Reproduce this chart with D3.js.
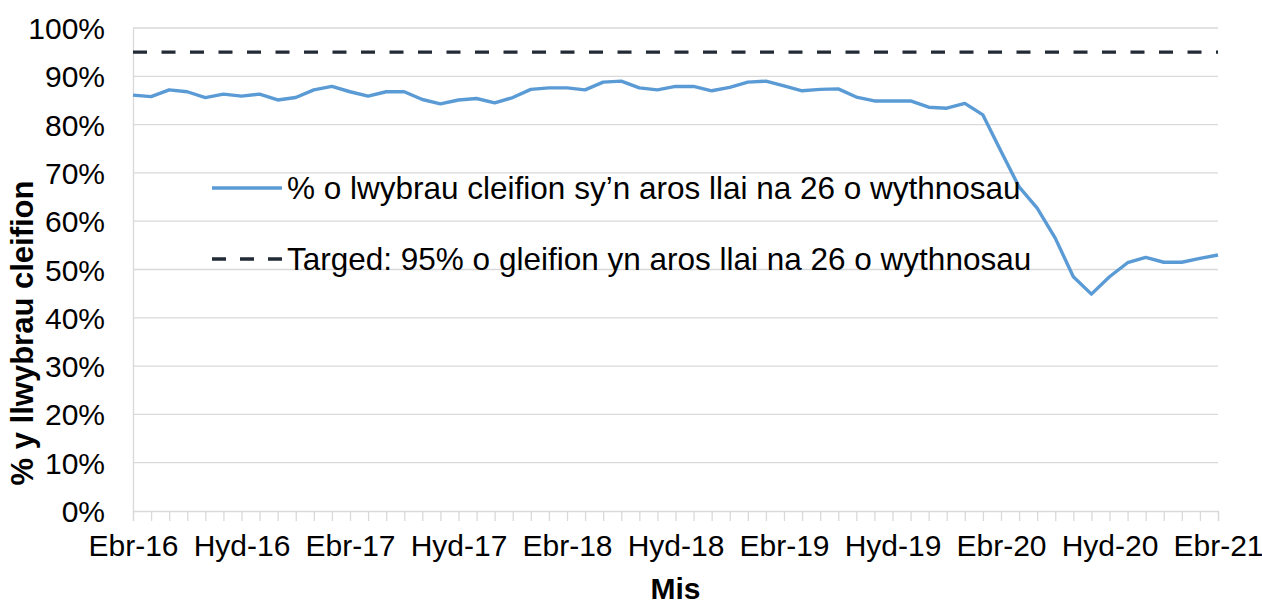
<!DOCTYPE html>
<html>
<head>
<meta charset="utf-8">
<script src="https://cdn.jsdelivr.net/npm/d3@7"></script>
<style>
  body { margin: 0; background: #fff; }
  svg { display: block; font-family: "Liberation Sans", Arial, sans-serif; }
</style>
</head>
<body>
<svg id="chart" width="1262" height="601"></svg>
<script>
// monthly categories, Apr 2016 - Apr 2021
const months = [
  "Ebr-16","Mai-16","Meh-16","Gor-16","Aws-16","Med-16","Hyd-16","Tach-16","Rhag-16","Ion-17","Chwe-17","Maw-17",
  "Ebr-17","Mai-17","Meh-17","Gor-17","Aws-17","Med-17","Hyd-17","Tach-17","Rhag-17","Ion-18","Chwe-18","Maw-18",
  "Ebr-18","Mai-18","Meh-18","Gor-18","Aws-18","Med-18","Hyd-18","Tach-18","Rhag-18","Ion-19","Chwe-19","Maw-19",
  "Ebr-19","Mai-19","Meh-19","Gor-19","Aws-19","Med-19","Hyd-19","Tach-19","Rhag-19","Ion-20","Chwe-20","Maw-20",
  "Ebr-20","Mai-20","Meh-20","Gor-20","Aws-20","Med-20","Hyd-20","Tach-20","Rhag-20","Ion-21","Chwe-21","Maw-21",
  "Ebr-21"
];

// % of pathways waiting < 26 weeks
const pathwayPct = [
  86.1, 85.8, 87.2, 86.8, 85.6, 86.3, 85.9, 86.3, 85.1, 85.6, 87.2, 87.9,
  86.8, 85.9, 86.8, 86.8, 85.2, 84.3, 85.1, 85.4, 84.5, 85.6, 87.3, 87.6,
  87.6, 87.2, 88.8, 89.0, 87.6, 87.2, 87.9, 87.9, 87.0, 87.7, 88.8, 89.0,
  88.0, 87.0, 87.3, 87.4, 85.7, 84.9, 84.9, 84.9, 83.6, 83.4, 84.4, 82.0,
  74.5, 67.1, 62.7, 56.5, 48.5, 44.9, 48.5, 51.4, 52.5, 51.5, 51.5, 52.3,
  53.0
];

const targetPct = 95;

const shownLabels = ["Ebr-16","Hyd-16","Ebr-17","Hyd-17","Ebr-18","Hyd-18","Ebr-19","Hyd-19","Ebr-20","Hyd-20","Ebr-21"];
const yTicks = [0, 10, 20, 30, 40, 50, 60, 70, 80, 90, 100];

const seriesNames = [
  "% o lwybrau cleifion sy’n aros llai na 26 o wythnosau",
  "Targed: 95% o gleifion yn aros llai na 26 o wythnosau"
];

const svg = d3.select("#chart");
const plotLeft = 133, plotRight = 1218, plotTop = 28, plotBottom = 511;

const x = d3.scalePoint().domain(months).range([plotLeft, plotRight]);
const y = d3.scaleLinear().domain([0, 100]).range([plotBottom, plotTop]);

// gridlines
svg.append("g")
  .selectAll("line")
  .data(yTicks.slice(1))
  .join("line")
  .attr("x1", plotLeft).attr("x2", plotRight)
  .attr("y1", d => y(d)).attr("y2", d => y(d))
  .attr("stroke", "#d9d9d9")
  .attr("stroke-width", 1.3);

// y axis
const yAxis = svg.append("g")
  .attr("transform", `translate(${plotLeft},0)`)
  .call(d3.axisLeft(y).tickValues(yTicks).tickSize(0).tickPadding(28).tickFormat(d => d + "%"));
yAxis.select(".domain").attr("stroke", "#d9d9d9").attr("stroke-width", 1.3);
yAxis.selectAll("text")
  .attr("fill", "#000")
  .style("font-size", "30px")
  .attr("dy", "0.35em");

// x axis
const xAxis = svg.append("g")
  .attr("transform", `translate(0,${plotBottom})`)
  .call(d3.axisBottom(x).tickSize(10).tickPadding(14)
    .tickFormat(d => shownLabels.includes(d) ? d : ""));
xAxis.select(".domain").attr("stroke", "#d9d9d9").attr("stroke-width", 1.3);
xAxis.selectAll(".tick line").attr("stroke", "#d9d9d9").attr("stroke-width", 1.3);
xAxis.selectAll("text")
  .attr("fill", "#000")
  .style("font-size", "30px");

// target line
svg.append("line")
  .attr("x1", plotLeft).attr("x2", plotRight)
  .attr("y1", y(targetPct)).attr("y2", y(targetPct))
  .attr("stroke", "#222a35")
  .attr("stroke-width", 3.4)
  .attr("stroke-dasharray", "14,14.5");

// series line
const line = d3.line()
  .x((d, i) => x(months[i]))
  .y(d => y(d));

svg.append("path")
  .datum(pathwayPct)
  .attr("d", line)
  .attr("fill", "none")
  .attr("stroke", "#5b9bd5")
  .attr("stroke-width", 3.4)
  .attr("stroke-linejoin", "round");

// legend
const legend = svg.append("g").attr("transform", "translate(212,0)");
const legendRows = [
  {name: seriesNames[0], yPos: 188, color: "#5b9bd5", dash: null},
  {name: seriesNames[1], yPos: 259, color: "#222a35", dash: "14,14"}
];
legendRows.forEach(r => {
  legend.append("line")
    .attr("x1", 0).attr("x2", 70)
    .attr("y1", r.yPos).attr("y2", r.yPos)
    .attr("stroke", r.color)
    .attr("stroke-width", 3.4)
    .attr("stroke-dasharray", r.dash);
  legend.append("text")
    .attr("x", 75).attr("y", r.yPos)
    .attr("dy", "0.35em")
    .style("font-size", "31.5px")
    .attr("fill", "#000")
    .text(r.name);
});

// axis titles
svg.append("text")
  .attr("x", (plotLeft + plotRight) / 2).attr("y", 599)
  .attr("text-anchor", "middle")
  .style("font-size", "30px")
  .style("font-weight", "bold")
  .text("Mis");

svg.append("text")
  .attr("transform", "translate(33,333) rotate(-90)")
  .attr("text-anchor", "middle")
  .style("font-size", "31px")
  .style("font-weight", "bold")
  .text("% y llwybrau cleifion");
</script>
</body>
</html>
